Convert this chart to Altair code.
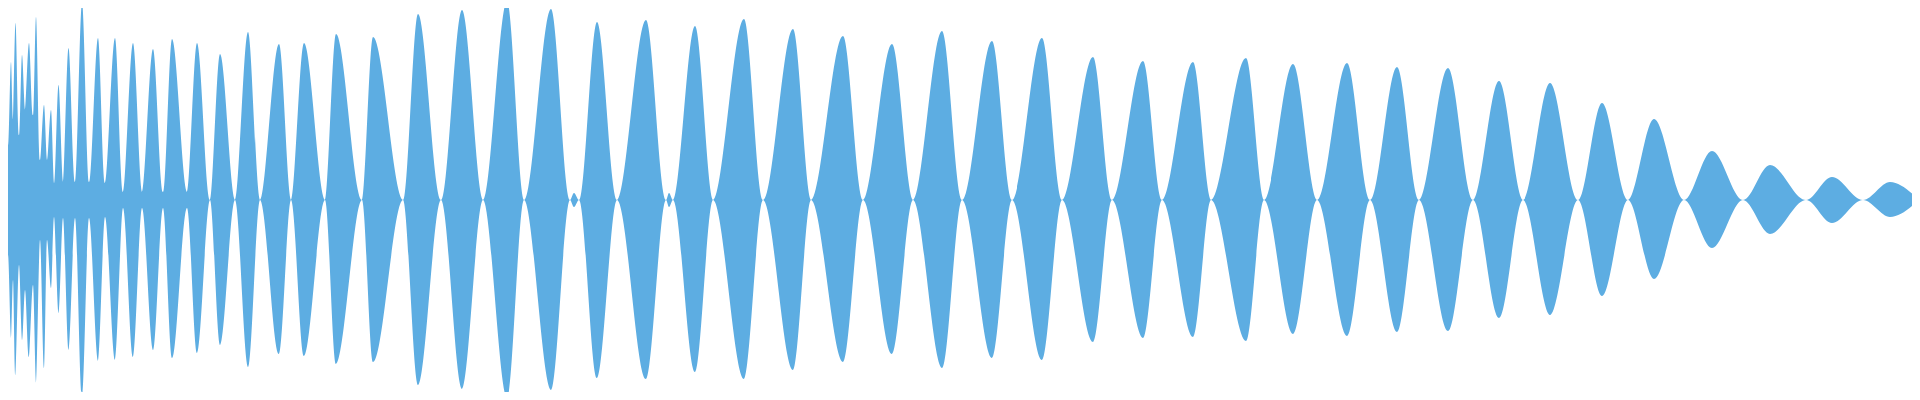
import altair as alt
import pandas as pd

# Time positions (ms) where the envelope dips between lobes, and the envelope level there
node_t = [0, 3, 8, 13, 19, 25, 33, 40, 47, 54, 63, 75, 89, 105, 123, 142, 163, 187, 210,
          235, 260, 291, 325, 362, 403, 441, 483, 524, 570, 579, 617, 666, 673, 713, 763,
          811, 863, 913, 962, 1012, 1062, 1112, 1162, 1211, 1264, 1317, 1370, 1419, 1473,
          1523, 1578, 1628, 1684, 1743, 1806, 1863, 1919]
node_amp = [85, 70, 55, 80, 65, 90, 85, 40, 40, 17, 18, 18, 18, 17, 8, 8, 8, 8, 0,
            0, 0, 0, 0, 0, 0, 0, 0, 0, 0, 0, 0, 0, 0, 0, 0,
            0, 0, 0, 0, 0, 0, 0, 0, 0, 0, 0, 0, 0, 0,
            0, 0, 0, 0, 0, 0, 0, 0]

# Peak of each lobe: time, positive excursion, negative excursion (level units, full scale 200)
peak_t = [1.5, 5, 11, 15.5, 22, 29, 36, 44, 51, 58.5, 68.5, 82, 98, 115, 133, 153, 172, 197,
          220, 248, 279, 304, 336, 373, 418, 462, 507, 551, 574, 597, 646, 669, 695, 744,
          793, 843, 892, 942, 992, 1042, 1093, 1143, 1193, 1246, 1293, 1347, 1397, 1448,
          1499, 1550, 1602, 1654, 1712, 1770, 1832, 1890]
peak_top = [105, 110, 138, 177, 145, 157, 183, 95, 90, 115, 152, 197, 162, 162, 157, 151, 161, 157,
            146, 168, 156, 157, 166, 163, 186, 190, 199, 191, 7, 178, 180, 7, 174, 181,
            171, 164, 156, 169, 159, 162, 143, 139, 138, 142, 136, 137, 133, 132,
            119, 117, 97, 81, 49, 35, 23, 18]
peak_bottom = [103, 108, 138, 175, 140, 157, 183, 168, 88, 113, 150, 195, 161, 160, 157, 150, 158, 153,
               145, 167, 154, 156, 164, 162, 185, 189, 198, 190, 7, 178, 179, 7, 172, 179,
               170, 162, 154, 168, 158, 160, 142, 138, 137, 141, 134, 136, 132, 131,
               118, 115, 96, 79, 48, 34, 23, 17]

rows = []
for i in range(len(node_t)):
    rows.append({"t": node_t[i], "upper": node_amp[i], "lower": -node_amp[i]})
    if i < len(peak_t):
        rows.append({"t": peak_t[i], "upper": peak_top[i], "lower": -peak_bottom[i]})
df = pd.DataFrame(rows)

chart = (
    alt.Chart(df)
    .mark_area(interpolate="monotone", color="#5DADE2", opacity=1, clip=True)
    .encode(
        x=alt.X("t:Q", scale=alt.Scale(domain=[8, 1912], nice=False, zero=False), axis=None),
        y=alt.Y("upper:Q", scale=alt.Scale(domain=[-192, 192], nice=False, zero=False), axis=None),
        y2="lower:Q",
    )
    .properties(width=1904, height=384, padding=0)
    .configure_view(strokeWidth=0)
)

chart.save("out.html", embed_options={"renderer": "svg", "actions": False})
